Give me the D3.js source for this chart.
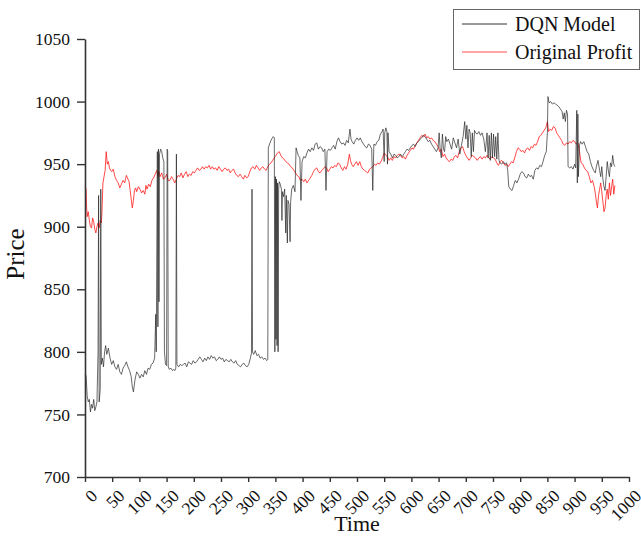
<!DOCTYPE html>
<html>
<head>
<meta charset="utf-8">
<script src="https://cdn.jsdelivr.net/npm/d3@7"></script>
<style>
  body { margin: 0; background: #fff; }
  svg text { font-family: "Liberation Serif", "Times New Roman", serif; fill: #111; }
</style>
</head>
<body>
<div id="viz"></div>
<script>
// tick values on both axes
const xTicks = d3.range(0, 1001, 50);
const yTicks = [700, 750, 800, 850, 900, 950, 1000, 1050];

// DQN Model series (time, price)
const dqnTime = [0,2,4,6,8,10,12,14,16,18,20,22,24,25,26,28,29,30,32,34,36,38,40,43,46,49,52,55,58,61,64,67,70,73,76,79,82,85,87,89,92,95,98,101,104,107,110,113,116,119,122,125,128,130,131,133,134,135,136,137,139,141,143,145,146,148,150,151,152,153,155,158,161,163,165,167,168,169,172,175,178,181,184,187,190,193,196,199,202,205,208,211,214,217,220,223,226,229,232,235,238,241,244,247,250,253,256,259,262,265,268,271,274,277,280,283,286,289,292,295,298,301,304,306,307,308,310,313,316,319,322,325,328,331,334,336,337,340,343,346,348,349,350,351,352,353,354,355,356,357,359,361,362,363,365,367,369,370,372,373,375,377,378,380,383,386,388,390,392,395,397,399,402,405,408,411,414,417,420,423,426,429,432,435,438,441,443,445,448,451,454,457,460,463,466,469,472,475,478,481,484,487,489,491,494,497,500,503,506,509,512,515,518,521,524,527,529,531,534,537,540,543,546,548,550,551,553,555,556,557,559,562,565,568,571,574,577,580,583,586,589,592,595,598,601,604,607,610,613,616,619,622,625,628,631,634,637,640,643,646,649,651,653,655,657,659,661,663,665,668,671,674,677,680,683,686,689,692,695,698,700,702,704,706,708,710,712,714,716,718,721,724,727,730,733,736,739,741,743,745,747,749,751,753,755,757,759,761,763,766,769,772,775,777,779,782,785,788,791,794,797,800,803,806,809,812,815,818,821,824,827,830,833,836,839,842,845,848,850,851,853,856,859,862,865,868,871,874,877,879,881,883,885,887,888,891,894,897,900,902,904,905,906,907,909,911,914,917,920,923,926,929,932,935,938,940,943,946,948,950,952,954,956,958,960,962,964,966,968,970,972,974];
const dqnPrice = [782,781,765,760,762,752,758,755,762,753,756,760,800,925,760,770,930,790,795,788,800,805,798,803,795,790,793,788,786,790,784,782,787,789,792,788,785,780,772,768,778,784,782,779,782,780,785,782,787,786,790,791,795,830,800,960,820,962,840,958,962,960,955,952,800,790,789,962,960,788,786,787,785,786,785,787,958,790,788,790,789,790,791,788,792,791,790,793,791,792,794,796,794,792,795,793,796,794,797,795,796,793,794,796,794,795,792,794,793,792,794,792,791,793,790,789,788,790,791,789,788,790,795,799,930,800,798,801,797,798,795,796,794,795,793,794,963,967,970,972,971,800,940,810,938,805,935,800,930,936,934,930,905,928,924,930,895,925,887,921,918,888,920,930,933,928,963,960,957,955,921,952,956,955,959,962,960,963,961,966,967,962,964,963,960,962,929,960,962,961,963,965,962,968,971,968,966,967,965,969,967,978,970,968,966,969,971,969,971,968,966,964,963,966,965,962,929,966,965,968,969,974,976,978,952,975,979,976,950,975,960,958,955,958,957,955,956,958,956,958,960,962,961,963,965,966,964,967,968,970,971,973,972,970,968,969,966,964,962,960,963,975,961,955,974,962,960,972,968,970,966,962,971,967,963,970,958,965,972,984,970,981,963,978,975,956,975,960,977,975,974,976,973,975,970,960,975,955,973,953,975,955,974,956,972,954,975,953,951,950,952,950,951,945,932,930,929,933,937,935,938,942,944,943,940,939,942,940,941,938,945,947,946,949,948,952,957,960,975,1004,999,1000,998,999,998,997,996,994,992,986,991,984,993,990,948,947,948,946,950,947,993,935,990,940,965,968,966,968,964,960,958,952,948,945,943,948,953,945,940,948,938,932,929,940,952,945,940,951,948,957,950,948];

// Original Profit series (time, price)
const origTime = [0,2,3,4,6,8,10,12,14,16,18,20,22,24,26,28,30,31,33,35,37,39,41,43,45,47,49,52,55,58,61,64,67,70,73,76,79,81,83,85,87,89,91,93,95,98,101,104,107,110,112,114,117,120,123,126,129,132,134,136,138,141,144,147,150,153,156,159,162,165,168,171,174,177,180,183,186,189,192,195,198,201,204,207,210,213,216,219,222,225,228,231,234,237,240,243,246,249,252,255,258,261,264,267,270,273,276,279,282,285,288,291,294,297,300,303,306,309,312,315,318,321,324,327,330,333,336,339,342,345,348,351,354,357,360,363,366,369,372,375,378,381,384,387,390,393,396,399,402,405,408,411,414,417,420,423,426,429,432,435,438,441,444,447,450,453,456,459,462,465,468,471,474,477,480,483,486,488,490,493,496,499,502,505,508,511,514,517,520,523,526,529,532,535,538,541,544,547,550,553,556,559,562,565,568,571,574,577,580,583,586,589,592,595,598,601,604,607,610,613,616,619,622,625,628,631,634,637,640,643,646,649,652,655,658,661,664,667,670,673,676,679,682,685,688,691,694,697,700,703,706,709,712,715,718,721,724,727,730,733,736,739,742,745,748,751,754,757,760,763,766,769,772,775,778,781,784,787,790,793,796,799,802,805,808,811,814,817,820,823,826,829,832,835,838,841,844,847,850,852,855,858,861,864,867,870,873,876,879,882,885,888,891,894,897,900,903,906,909,912,915,918,921,924,927,930,933,936,938,940,942,944,946,948,950,952,954,956,958,960,962,964,966,968,970,972,974];
const origPrice = [932,930,915,908,912,905,900,899,907,904,898,895,900,903,899,905,903,910,935,940,945,960,950,952,947,945,944,946,940,937,935,931,934,937,935,941,938,936,929,922,915,921,929,931,928,932,930,927,929,926,933,930,934,932,937,939,942,945,940,944,940,943,938,939,942,937,937,940,938,935,938,941,940,943,939,942,944,940,942,941,944,943,945,947,945,946,948,946,948,947,949,946,948,946,947,945,948,946,944,946,947,945,946,943,945,946,943,941,940,942,940,938,941,939,940,944,947,948,946,949,947,945,947,948,946,945,948,950,951,953,955,957,959,960,957,955,954,952,951,950,948,947,945,943,941,940,937,938,936,938,935,937,939,941,944,946,947,944,943,945,946,948,947,944,946,948,947,949,948,951,950,947,945,948,946,950,958,953,950,948,950,952,949,952,948,946,945,944,943,946,947,948,950,949,951,950,952,955,959,957,956,953,955,953,956,955,957,958,957,955,956,954,957,959,961,963,962,965,967,969,971,973,972,974,971,972,970,971,969,968,966,964,960,962,956,958,955,953,952,954,953,956,957,955,960,963,964,960,957,955,953,955,957,956,955,953,955,956,954,956,955,957,955,954,956,955,954,951,949,952,953,951,949,950,948,950,952,951,955,960,963,962,960,961,959,962,963,961,964,963,966,965,968,972,973,975,977,979,984,976,978,977,980,979,975,973,971,969,966,965,967,966,968,967,969,968,966,967,960,951,950,947,945,944,940,935,937,932,927,920,915,925,930,935,928,920,912,915,925,930,922,935,925,932,938,926,933];

const width = 641, height = 537;
const margin = { top: 39, right: 12, bottom: 60, left: 85 };
const serif = '"Liberation Serif", "Times New Roman", serif';

const svg = d3.select('#viz').append('svg')
    .attr('width', width)
    .attr('height', height);

const xScale = d3.scaleLinear()
    .domain([0, 1000])
    .range([margin.left, width - margin.right]);

const yScale = d3.scaleLinear()
    .domain([700, 1050])
    .range([height - margin.bottom, margin.top]);

// lines first so the axes sit on top
const line = d3.line()
    .x(d => xScale(d[0]))
    .y(d => yScale(d[1]));

svg.append('path')
    .datum(d3.zip(origTime, origPrice))
    .attr('fill', 'none')
    .attr('stroke', '#ff1a1a')
    .attr('stroke-width', 0.8)
    .attr('d', line);

svg.append('path')
    .datum(d3.zip(dqnTime, dqnPrice))
    .attr('fill', 'none')
    .attr('stroke', '#222')
    .attr('stroke-width', 0.8)
    .attr('stroke-opacity', 0.85)
    .attr('d', line);

// y axis
const yAxis = svg.append('g')
    .attr('transform', `translate(${margin.left},0)`)
    .call(d3.axisLeft(yScale).tickValues(yTicks).tickFormat(d3.format('d'))
        .tickSize(8).tickSizeOuter(0).tickPadding(7));

// x axis
const xAxis = svg.append('g')
    .attr('transform', `translate(0,${height - margin.bottom})`)
    .call(d3.axisBottom(xScale).tickValues(xTicks).tickFormat(d3.format('d'))
        .tickSize(5).tickSizeOuter(0));

[yAxis, xAxis].forEach(ax => {
    ax.attr('font-family', serif).attr('font-size', 17.5);
    ax.select('.domain').attr('stroke', '#333').attr('stroke-width', 1.6);
    ax.selectAll('.tick line').attr('stroke', '#333').attr('stroke-width', 1.4);
    ax.selectAll('.tick text')
        .style('font-family', serif)
        .style('font-size', '17.5px')
        .attr('fill', '#222');
});

xAxis.selectAll('.tick text')
    .attr('text-anchor', 'end')
    .attr('dy', null)
    .attr('y', null)
    .attr('transform', 'translate(13,20) rotate(-45)');

// axis titles
svg.append('text')
    .attr('x', xScale(500))
    .attr('y', 531)
    .attr('text-anchor', 'middle')
    .style('font-size', '22px')
    .text('Time');

svg.append('text')
    .attr('transform', `translate(24,254) rotate(-90)`)
    .attr('text-anchor', 'middle')
    .style('font-size', '25px')
    .text('Price');

// legend
const legend = svg.append('g');
legend.append('rect')
    .attr('x', 453.5).attr('y', 9.5)
    .attr('width', 186).attr('height', 60)
    .attr('fill', '#fff')
    .attr('stroke', '#666')
    .attr('stroke-width', 1);

const legendItems = [
    { label: 'DQN Model', color: '#333' },
    { label: 'Original Profit', color: '#ff4d4d' }
];

legendItems.forEach((item, i) => {
    const y = 24 + i * 28;
    legend.append('line')
        .attr('x1', 462).attr('x2', 507)
        .attr('y1', y).attr('y2', y)
        .attr('stroke', item.color)
        .attr('stroke-width', 1);
    legend.append('text')
        .attr('x', 515)
        .attr('y', y + 7)
        .style('font-size', '20px')
        .text(item.label);
});
</script>
</body>
</html>
